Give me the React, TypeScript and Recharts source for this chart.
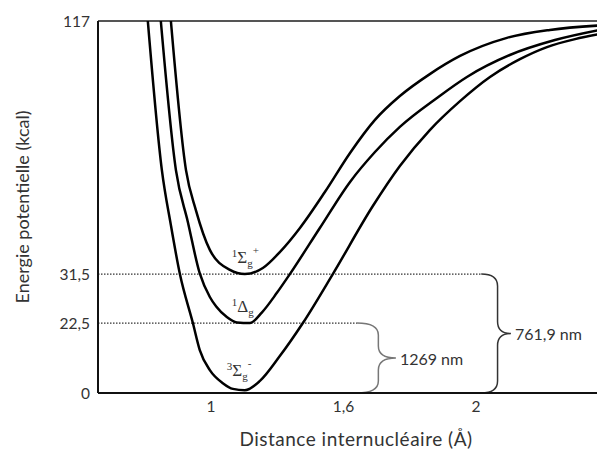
import { LineChart, Line, XAxis, YAxis, ReferenceLine, ReferenceArea, ReferenceDot } from 'recharts'

// Schematic axes: tick positions are placed where the drawing puts them, labels keep the original values
const xTicks = [1, 1.5, 2]
const xTickLabels = ['1', '1,6', '2']
const yTicks = [0, 22, 37.4, 117]
const yTickLabels = ['0', '22,5', '31,5', '117']

// 3Σg- (ground state)
const groundState = [
  { r: 0.762, e: 117 }, { r: 0.815, e: 70.1 }, { r: 0.849, e: 52.8 }, { r: 0.883, e: 37.4 },
  { r: 0.932, e: 22.0 }, { r: 0.958, e: 13.5 }, { r: 0.996, e: 7.2 }, { r: 1.045, e: 3.1 },
  { r: 1.083, e: 1.3 }, { r: 1.128, e: 0.9 }, { r: 1.185, e: 3.8 }, { r: 1.26, e: 11.6 },
  { r: 1.347, e: 22.0 }, { r: 1.46, e: 37.4 }, { r: 1.611, e: 58.8 }, { r: 1.713, e: 71.4 },
  { r: 1.826, e: 82.7 }, { r: 1.94, e: 91.8 }, { r: 2.053, e: 99.4 }, { r: 2.166, e: 105.0 },
  { r: 2.268, e: 108.8 }, { r: 2.374, e: 111.3 }, { r: 2.487, e: 113.2 },
]

// 1Δg
const deltaState = [
  { r: 0.811, e: 117 }, { r: 0.868, e: 70.1 }, { r: 0.913, e: 53.8 }, { r: 0.958, e: 37.6 },
  { r: 0.996, e: 30.2 }, { r: 1.02, e: 27.2 }, { r: 1.06, e: 23.9 }, { r: 1.098, e: 22.2 },
  { r: 1.147, e: 22.0 }, { r: 1.192, e: 25.3 }, { r: 1.249, e: 31.5 }, { r: 1.298, e: 37.4 },
  { r: 1.411, e: 51.9 }, { r: 1.525, e: 66.4 }, { r: 1.619, e: 75.8 }, { r: 1.713, e: 83.7 },
  { r: 1.853, e: 92.8 }, { r: 1.966, e: 99.4 }, { r: 2.128, e: 106.3 }, { r: 2.298, e: 111.0 },
  { r: 2.487, e: 114.5 },
]

// 1Σg+
const sigmaPlusState = [
  { r: 0.849, e: 117 }, { r: 0.906, e: 70.1 }, { r: 0.943, e: 57.6 }, { r: 0.996, e: 45.0 },
  { r: 1.072, e: 38.7 }, { r: 1.128, e: 37.4 }, { r: 1.196, e: 39.3 }, { r: 1.26, e: 44.3 },
  { r: 1.336, e: 51.9 }, { r: 1.43, e: 63.2 }, { r: 1.525, e: 75.5 }, { r: 1.619, e: 85.9 },
  { r: 1.713, e: 93.4 }, { r: 1.826, e: 100.3 }, { r: 1.94, e: 106.0 }, { r: 2.117, e: 111.7 },
  { r: 2.279, e: 114.2 }, { r: 2.487, e: 115.7 },
]

// transitions: level, brace start / tip along r, label
const transitions = [
  { label: '1269 nm', top: 22, x1: 1.551, x2: 1.698, color: '#777' },
  { label: '761,9 nm', top: 37.4, x1: 2.02, x2: 2.132, color: '#333' },
]

const stateLabels = [
  { r: 1.079, e: 40.9, lead: '1', main: 'Σ', sub: 'g', sup: '+' },
  { r: 1.079, e: 25.5, lead: '1', main: 'Δ', sub: 'g', sup: '' },
  { r: 1.06, e: 5.5, lead: '3', main: 'Σ', sub: 'g', sup: '-' },
]

const FONT = 'Lato, "Open Sans", sans-serif'

function Brace(props: any) {
  const { x, y, width, height, stroke, label } = props
  const xv = x + width * 0.55
  const xt = x + width
  const ym = y + height / 2
  const r = Math.min(12, height / 4)
  const d = [
    `M ${x} ${y}`,
    `Q ${xv} ${y} ${xv} ${y + r}`,
    `L ${xv} ${ym - r}`,
    `Q ${xv} ${ym} ${xt} ${ym}`,
    `Q ${xv} ${ym} ${xv} ${ym + r}`,
    `L ${xv} ${y + height - r}`,
    `Q ${xv} ${y + height} ${x} ${y + height}`,
  ].join(' ')
  return (
    <g>
      <path d={d} fill="none" stroke={stroke} strokeWidth={1.5} />
      <text x={xt + 4} y={ym} dominantBaseline="central" fontFamily={FONT} fontSize={16} fill="#333">
        {label}
      </text>
    </g>
  )
}

function StateLabel({ cx, cy, lead, main, sub, sup }: any) {
  return (
    <text x={cx} y={cy} fontFamily='"Liberation Serif", serif' fill="#333" fontSize={17}>
      <tspan fontSize={11} dy={-6}>{lead}</tspan>
      <tspan dy={6}>{main}</tspan>
      <tspan fontSize={11} dy={4}>{sub}</tspan>
      {sup ? <tspan fontSize={11} dy={-13}>{sup}</tspan> : null}
    </text>
  )
}

export default function App() {
  return (
    <LineChart width={597} height={448} margin={{ top: 13, right: 0, left: 0, bottom: 0 }}>
      <XAxis
        type="number"
        dataKey="r"
        domain={[0.574, 2.487]}
        allowDataOverflow
        ticks={xTicks}
        tickFormatter={(v: number) => xTickLabels[xTicks.indexOf(v)] ?? ''}
        tickLine={false}
        axisLine={{ stroke: '#111', strokeWidth: 2 }}
        tick={{ fill: '#333', fontSize: 15.5, fontFamily: FONT }}
        height={63}
        label={{
          content: () => (
            <text
              x={348}
              y={430}
              textAnchor="middle"
              dominantBaseline="central"
              fontFamily={FONT}
              fontSize={19}
              letterSpacing={0.5}
              fill="#333"
            >
              Distance internucléaire (Å)
            </text>
          ),
        }}
      />
      <YAxis
        type="number"
        dataKey="e"
        domain={[0, 117]}
        allowDataOverflow
        ticks={yTicks}
        tickFormatter={(v: number) => yTickLabels[yTicks.indexOf(v)] ?? ''}
        tickLine={false}
        axisLine={{ stroke: '#111', strokeWidth: 2 }}
        tick={{ fill: '#333', fontSize: 15.5, fontFamily: FONT }}
        width={90}
        label={{
          content: () => (
            <text
              x={14}
              y={199}
              transform="rotate(-90 14 199)"
              textAnchor="middle"
              dominantBaseline="central"
              fontFamily={FONT}
              fontSize={18}
              fill="#333"
            >
              Energie potentielle (kcal)
            </text>
          ),
        }}
      />
      <ReferenceLine y={117} stroke="#555" strokeWidth={2} />
      {transitions.map((t) => (
        <ReferenceLine
          key={`dot-${t.label}`}
          segment={[{ x: 0.574, y: t.top }, { x: t.x1, y: t.top }]}
          stroke="#333"
          strokeWidth={1.2}
          strokeDasharray="1.5 1.5"
        />
      ))}
      {transitions.map((t) => (
        <ReferenceArea
          key={`brace-${t.label}`}
          x1={t.x1}
          x2={t.x2}
          y1={0}
          y2={t.top}
          shape={(p: any) => <Brace {...p} stroke={t.color} label={t.label} />}
        />
      ))}
      <Line data={groundState} dataKey="e" type="monotone" stroke="#000" strokeWidth={2.5} dot={false} isAnimationActive={false} />
      <Line data={deltaState} dataKey="e" type="monotone" stroke="#000" strokeWidth={2.5} dot={false} isAnimationActive={false} />
      <Line data={sigmaPlusState} dataKey="e" type="monotone" stroke="#000" strokeWidth={2.5} dot={false} isAnimationActive={false} />
      {stateLabels.map((s) => (
        <ReferenceDot
          key={`${s.lead}${s.main}${s.sup}`}
          x={s.r}
          y={s.e}
          r={0}
          shape={(p: any) => <StateLabel {...p} {...s} />}
        />
      ))}
    </LineChart>
  )
}
